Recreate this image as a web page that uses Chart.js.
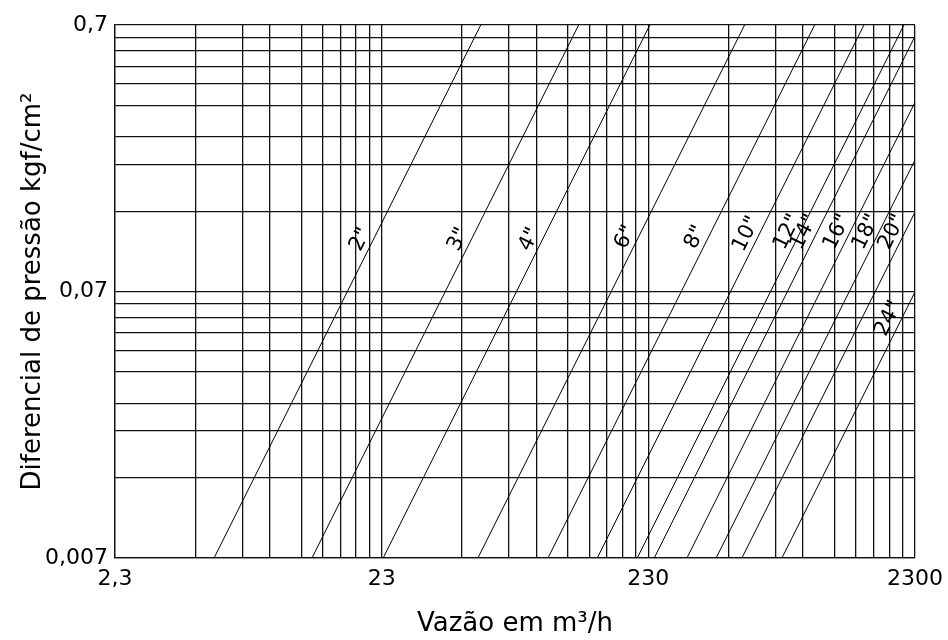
<!DOCTYPE html>
<html>
<head>
<meta charset="utf-8">
<script src="https://cdn.jsdelivr.net/npm/chart.js@4"></script>
<style>
  html, body { margin: 0; padding: 0; background: #fff; }
  #wrap { width: 948px; height: 640px; position: relative; }
</style>
</head>
<body>
<div id="wrap"><canvas id="myChart"></canvas></div>
<script>
// Pipe sizes and their lines (flow at 0,007 kgf/cm2 and the end point of each line)
const sizes = ['2"', '3"', '4"', '6"', '8"', '10"', '12"', '14"', '16"', '18"', '20"', '24"'];
const qStart = [5.41, 12.6, 23.3, 52.8, 96.7, 148, 209, 242, 321, 413, 516, 729];
const pStart = [0.007, 0.007, 0.007, 0.007, 0.007, 0.007, 0.007, 0.007, 0.007, 0.007, 0.007, 0.007];
const qEnd = [54.1, 126, 233, 528, 967, 1480, 2090, 2300, 2300, 2300, 2300, 2300];
const pEnd = [0.7, 0.7, 0.7, 0.7, 0.7, 0.7, 0.7, 0.635, 0.359, 0.218, 0.139, 0.0697];
// pressure at which each size label sits along its line
const labelAt = [0.105, 0.105, 0.105, 0.107, 0.107, 0.11, 0.112, 0.112, 0.112, 0.112, 0.112, 0.053];

// grid lines and tick labels
const xGrid = [2.3, 4.6, 6.9, 8.74, 11.5, 13.8, 16.1, 18.4, 20.7,
  23, 46, 69, 87.4, 115, 138, 161, 184, 207,
  230, 460, 690, 874, 1150, 1380, 1610, 1840, 2070, 2300];
const yGrid = [0.007, 0.014, 0.021, 0.0266, 0.035, 0.042, 0.049, 0.056, 0.063,
  0.07, 0.14, 0.21, 0.266, 0.35, 0.42, 0.49, 0.56, 0.63, 0.7];
const xMajor = [2.3, 23, 230, 2300];
const xTickLabels = ['2,3', '23', '230', '2300'];
const yMajor = [0.007, 0.07, 0.7];
const yTickLabels = ['0,007', '0,07', '0,7'];

const FONT = 'DejaVu Sans';

const datasets = sizes.map((s, i) => ({
  label: s,
  data: [{ x: qStart[i], y: pStart[i] }, { x: qEnd[i], y: pEnd[i] }],
  borderColor: '#000',
  borderWidth: 1,
  pointRadius: 0,
  fill: false,
  tension: 0
}));

// draws the rotated size labels next to each line
const sizeLabels = {
  id: 'sizeLabels',
  afterDatasetsDraw(chart) {
    const { ctx, scales: { x, y } } = chart;
    ctx.save();
    ctx.font = '21px "' + FONT + '"';
    ctx.fillStyle = '#000';
    ctx.textAlign = 'center';
    ctx.textBaseline = 'bottom';
    sizes.forEach((s, i) => {
      const x0 = x.getPixelForValue(qStart[i]), y0 = y.getPixelForValue(pStart[i]);
      const x1 = x.getPixelForValue(qEnd[i]), y1 = y.getPixelForValue(pEnd[i]);
      const ly = y.getPixelForValue(labelAt[i]);
      const lx = x0 + (x1 - x0) * (ly - y0) / (y1 - y0);
      const ang = Math.atan2(y1 - y0, x1 - x0);
      ctx.save();
      ctx.translate(lx, ly);
      ctx.rotate(ang);
      ctx.fillText(s, 0, -1);
      ctx.restore();
    });
    ctx.restore();
  }
};

const ctx = document.getElementById('myChart').getContext('2d');
const myChart = new Chart(ctx, {
  type: 'line',
  data: { datasets: datasets },
  options: {
    responsive: true,
    maintainAspectRatio: false,
    animation: false,
    layout: { padding: { top: 25, right: 33, left: 0, bottom: 0 } },
    plugins: {
      legend: { display: false },
      tooltip: { enabled: false }
    },
    scales: {
      x: {
        type: 'logarithmic',
        min: 2.3,
        max: 2300,
        afterBuildTicks: (scale) => { scale.ticks = xGrid.map(v => ({ value: v })); },
        afterFit: (scale) => {
          scale.height = 82;
          scale.paddingLeft = 0;
          scale.paddingRight = 0;
        },
        grid: { color: '#111', lineWidth: 1.3, drawTicks: false },
        border: { color: '#111', width: 1.3 },
        ticks: {
          autoSkip: false,
          maxRotation: 0,
          padding: 8,
          color: '#000',
          font: { family: FONT, size: 22 },
          callback: (value) => {
            const k = xMajor.indexOf(value);
            return k >= 0 ? xTickLabels[k] : '';
          }
        },
        title: {
          display: true,
          text: 'Vazão em m³/h',
          color: '#000',
          font: { family: FONT, size: 26 },
          padding: { bottom: 0 }
        }
      },
      y: {
        type: 'logarithmic',
        min: 0.007,
        max: 0.7,
        afterBuildTicks: (scale) => { scale.ticks = yGrid.map(v => ({ value: v })); },
        afterFit: (scale) => {
          scale.width = 115;
          scale.paddingTop = 0;
          scale.paddingBottom = 0;
        },
        grid: { color: '#111', lineWidth: 1.3, drawTicks: false },
        border: { color: '#111', width: 1.3 },
        ticks: {
          autoSkip: false,
          padding: 7,
          color: '#000',
          font: { family: FONT, size: 22 },
          callback: (value) => {
            const k = yMajor.indexOf(value);
            return k >= 0 ? yTickLabels[k] : '';
          }
        },
        title: {
          display: true,
          text: 'Diferencial de pressão kgf/cm²',
          color: '#000',
          font: { family: FONT, size: 26 },
          padding: { top: 18 }
        }
      }
    }
  },
  plugins: [sizeLabels]
});
</script>
</body>
</html>
